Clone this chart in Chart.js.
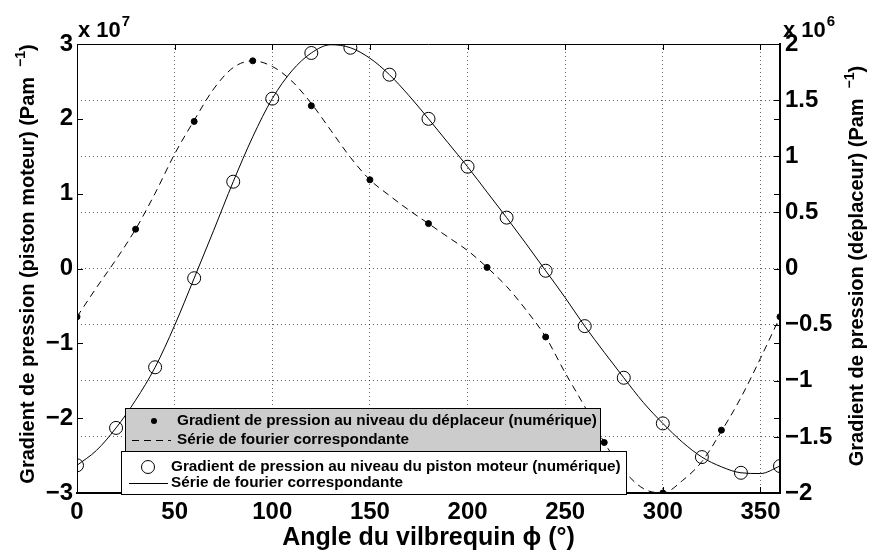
<!DOCTYPE html>
<html>
<head>
<meta charset="utf-8">
<script src="https://cdn.jsdelivr.net/npm/chart.js@4.4.0/dist/chart.umd.min.js"></script>
<style>
  html, body { margin: 0; padding: 0; background: #fff; }
  canvas { display: block; }
</style>
</head>
<body>
<canvas id="chart" width="870" height="555"></canvas>
<script>
const FONT = "'Liberation Sans', Arial, Helvetica, sans-serif";

// piston moteur (left axis, x 10^7)
const anglesPiston = [0, 20, 40, 60, 80, 100, 120, 140, 160, 180, 200, 220, 240, 260, 280, 300, 320, 340, 360];
const pistonNumeric = [-2.63, -2.13, -1.32, -0.13, 1.16, 2.27, 2.88, 2.95, 2.59, 2.00, 1.36, 0.68, -0.03, -0.77, -1.46, -2.07, -2.52, -2.73, -2.64];

// deplaceur (right axis, x 10^6)
const anglesDeplaceur = [0, 30, 60, 90, 120, 150, 180, 210, 240, 270, 300, 330, 360];
const deplaceurNumeric = [-0.43, 0.35, 1.31, 1.85, 1.45, 0.79, 0.40, 0.01, -0.61, -1.55, -2.0, -1.44, -0.43];

// fourier series, read every 10 degrees
const anglesFourier = [0, 10, 20, 30, 40, 50, 60, 70, 80, 90, 100, 110, 120, 130, 140, 150, 160, 170, 180,
  190, 200, 210, 220, 230, 240, 250, 260, 270, 280, 290, 300, 310, 320, 330, 340, 350, 360];
const pistonFourier = [-2.63, -2.43, -2.13, -1.76, -1.32, -0.76, -0.13, 0.51, 1.16, 1.76, 2.27, 2.64, 2.88, 2.99,
  2.95, 2.81, 2.59, 2.31, 2.00, 1.68, 1.36, 1.02, 0.68, 0.33, -0.03, -0.39, -0.77, -1.12, -1.46, -1.79, -2.07,
  -2.32, -2.52, -2.65, -2.73, -2.74, -2.64];
const deplaceurFourier = [-0.43, -0.17, 0.08, 0.35, 0.67, 1.02, 1.32, 1.60, 1.79, 1.85, 1.80, 1.67, 1.47, 1.23,
  0.99, 0.79, 0.65, 0.52, 0.40, 0.28, 0.16, 0.01, -0.16, -0.37, -0.61, -0.93, -1.23, -1.55, -1.80, -1.96, -2.0,
  -1.89, -1.72, -1.45, -1.15, -0.80, -0.43];

const xTicks = [0, 50, 100, 150, 200, 250, 300, 350];

function pts(xs, ys) {
  return xs.map((x, i) => ({ x: x, y: ys[i] }));
}
function minus(v) {
  return String(v).replace('-', '\u2212');
}

// matlab style extras: box, inward ticks, exponents, y titles, the two legends
const matlabLook = {
  id: 'matlabLook',
  afterDraw(chart) {
    const ctx = chart.ctx;
    const a = chart.chartArea;
    const sx = chart.scales.x, sy = chart.scales.y, sy2 = chart.scales.y2;
    const ds = chart.data.datasets;
    ctx.save();
    ctx.strokeStyle = '#000';
    ctx.fillStyle = '#000';
    ctx.lineWidth = 1;

    ctx.beginPath();
    ctx.moveTo(a.left, a.top + 0.5);
    ctx.lineTo(a.right, a.top + 0.5);
    ctx.stroke();

    const tl = 6;
    ctx.beginPath();
    sx.ticks.forEach(t => {
      const px = Math.round(sx.getPixelForValue(t.value)) + 0.5;
      ctx.moveTo(px, a.bottom); ctx.lineTo(px, a.bottom - tl);
      ctx.moveTo(px, a.top); ctx.lineTo(px, a.top + tl);
    });
    sy.ticks.forEach(t => {
      const py = Math.round(sy.getPixelForValue(t.value)) + 0.5;
      ctx.moveTo(a.left, py); ctx.lineTo(a.left + tl, py);
      ctx.moveTo(a.right, py); ctx.lineTo(a.right - tl, py);
    });
    sy2.ticks.forEach(t => {
      const py = Math.round(sy2.getPixelForValue(t.value)) + 0.5;
      ctx.moveTo(a.right, py); ctx.lineTo(a.right - tl, py);
    });
    ctx.stroke();

    // x 10^n
    function power(x, y, e) {
      ctx.textAlign = 'left';
      ctx.textBaseline = 'alphabetic';
      ctx.font = 'bold 22px ' + FONT;
      ctx.fillText('x 10', x, y);
      const w = ctx.measureText('x 10').width;
      ctx.font = 'bold 15px ' + FONT;
      ctx.fillText(e, x + w + 1, y - 11);
    }
    power(78, 37, '7');
    power(783, 37, '6');

    // rotated y titles with Pam^-1
    function yTitle(main, cx, cy) {
      ctx.save();
      ctx.translate(cx, cy);
      ctx.rotate(-Math.PI / 2);
      ctx.textAlign = 'left';
      ctx.textBaseline = 'alphabetic';
      ctx.font = 'bold 20px ' + FONT;
      const w1 = ctx.measureText(main).width;
      const w3 = ctx.measureText(')').width;
      ctx.font = 'bold 14px ' + FONT;
      const w2 = ctx.measureText('\u22121').width;
      const gap = 10;
      const x0 = -(w1 + gap + w2 + w3) / 2;
      ctx.font = 'bold 20px ' + FONT;
      ctx.fillText(main, x0, 0);
      ctx.fillText(')', x0 + w1 + gap + w2, 0);
      ctx.font = 'bold 14px ' + FONT;
      ctx.fillText('\u22121', x0 + w1 + gap, -9);
      ctx.restore();
    }
    yTitle('Gradient de pression (piston moteur) (Pam', 34, 264);
    yTitle('Gradient de pression (d\u00e9placeur) (Pam', 863, 266);

    // legends
    function legendBox(x, y, w, h, fill) {
      ctx.fillStyle = fill;
      ctx.fillRect(x, y, w, h);
      ctx.strokeStyle = '#000';
      ctx.lineWidth = 1;
      ctx.strokeRect(x + 0.5, y + 0.5, w, h);
    }
    function legendText(txt, x, y) {
      ctx.fillStyle = '#000';
      ctx.font = 'bold 15.3px ' + FONT;
      ctx.textAlign = 'left';
      ctx.textBaseline = 'middle';
      ctx.fillText(txt, x, y);
    }
    function legendLine(x1, x2, y, dash) {
      ctx.save();
      ctx.strokeStyle = '#000';
      ctx.lineWidth = 1;
      ctx.setLineDash(dash || []);
      ctx.beginPath();
      ctx.moveTo(x1, y + 0.5);
      ctx.lineTo(x2, y + 0.5);
      ctx.stroke();
      ctx.restore();
    }

    legendBox(125, 408, 475, 43, '#cccccc');
    ctx.fillStyle = '#000';
    ctx.beginPath();
    ctx.arc(154, 421, ds[0].pointRadius, 0, Math.PI * 2);
    ctx.fill();
    legendText(ds[0].label, 177, 421);
    legendLine(132, 171, 440, ds[1].borderDash);
    legendText(ds[1].label, 177, 440);

    legendBox(121, 451, 505, 43, '#ffffff');
    ctx.strokeStyle = '#000';
    ctx.beginPath();
    ctx.arc(148, 467, ds[2].pointRadius, 0, Math.PI * 2);
    ctx.stroke();
    legendText(ds[2].label, 171, 467);
    legendLine(129, 168, 483);
    legendText(ds[3].label, 171, 483);

    ctx.restore();
  }
};

const tickFont = { family: FONT, size: 24, weight: 'bold' };

new Chart(document.getElementById('chart'), {
  type: 'line',
  data: {
    datasets: [
      {
        label: 'Gradient de pression au niveau du d\u00e9placeur (num\u00e9rique)',
        data: pts(anglesDeplaceur, deplaceurNumeric),
        yAxisID: 'y2',
        showLine: false,
        pointRadius: 3,
        pointBackgroundColor: '#000',
        pointBorderColor: '#000',
        borderColor: '#000'
      },
      {
        label: 'S\u00e9rie de fourier correspondante',
        data: pts(anglesFourier, deplaceurFourier),
        yAxisID: 'y2',
        borderColor: '#000',
        borderWidth: 1,
        borderDash: [7, 5],
        pointRadius: 0,
        fill: false,
        cubicInterpolationMode: 'monotone'
      },
      {
        label: 'Gradient de pression au niveau du piston moteur (num\u00e9rique)',
        data: pts(anglesPiston, pistonNumeric),
        yAxisID: 'y',
        showLine: false,
        pointRadius: 6.5,
        pointBackgroundColor: 'rgba(0,0,0,0)',
        pointBorderColor: '#000',
        pointBorderWidth: 1,
        borderColor: '#000'
      },
      {
        label: 'S\u00e9rie de fourier correspondante',
        data: pts(anglesFourier, pistonFourier),
        yAxisID: 'y',
        borderColor: '#000',
        borderWidth: 1,
        pointRadius: 0,
        fill: false,
        cubicInterpolationMode: 'monotone'
      }
    ]
  },
  options: {
    responsive: false,
    animation: false,
    layout: { padding: { top: 44, left: 0, right: 0, bottom: 0 } },
    plugins: {
      legend: { display: false },
      tooltip: { enabled: false }
    },
    scales: {
      x: {
        type: 'linear',
        position: 'bottom',
        min: 0,
        max: 360,
        afterBuildTicks: s => { s.ticks = xTicks.map(v => ({ value: v })); },
        afterFit: s => { s.height = 62; },
        ticks: { font: tickFont, color: '#000', padding: 5, maxRotation: 0, autoSkip: false },
        grid: { drawTicks: false, color: 'rgba(0,0,0,0.6)', lineWidth: 1 },
        border: { display: true, color: '#000', width: 2, dash: [1, 3] },
        title: {
          display: true,
          text: 'Angle du vilbrequin \u03d5 (\u00b0)',
          color: '#000',
          font: { family: FONT, size: 25, weight: 'bold' },
          padding: { top: 0, bottom: 2 }
        }
      },
      y: {
        position: 'left',
        min: -3,
        max: 3,
        afterFit: s => { s.width = 77; },
        ticks: { stepSize: 1, font: tickFont, color: '#000', padding: 4, callback: v => minus(v) },
        grid: { display: false, drawTicks: false },
        border: { display: true, color: '#000', width: 1 }
      },
      y2: {
        position: 'right',
        min: -2,
        max: 2,
        afterFit: s => { s.width = 90; },
        ticks: { stepSize: 0.5, font: tickFont, color: '#000', padding: 5, callback: v => minus(v) },
        grid: { drawTicks: false, color: 'rgba(0,0,0,0.6)', lineWidth: 1 },
        border: { display: true, color: '#000', width: 2, dash: [1, 3] }
      }
    }
  },
  plugins: [matlabLook]
});
</script>
</body>
</html>
